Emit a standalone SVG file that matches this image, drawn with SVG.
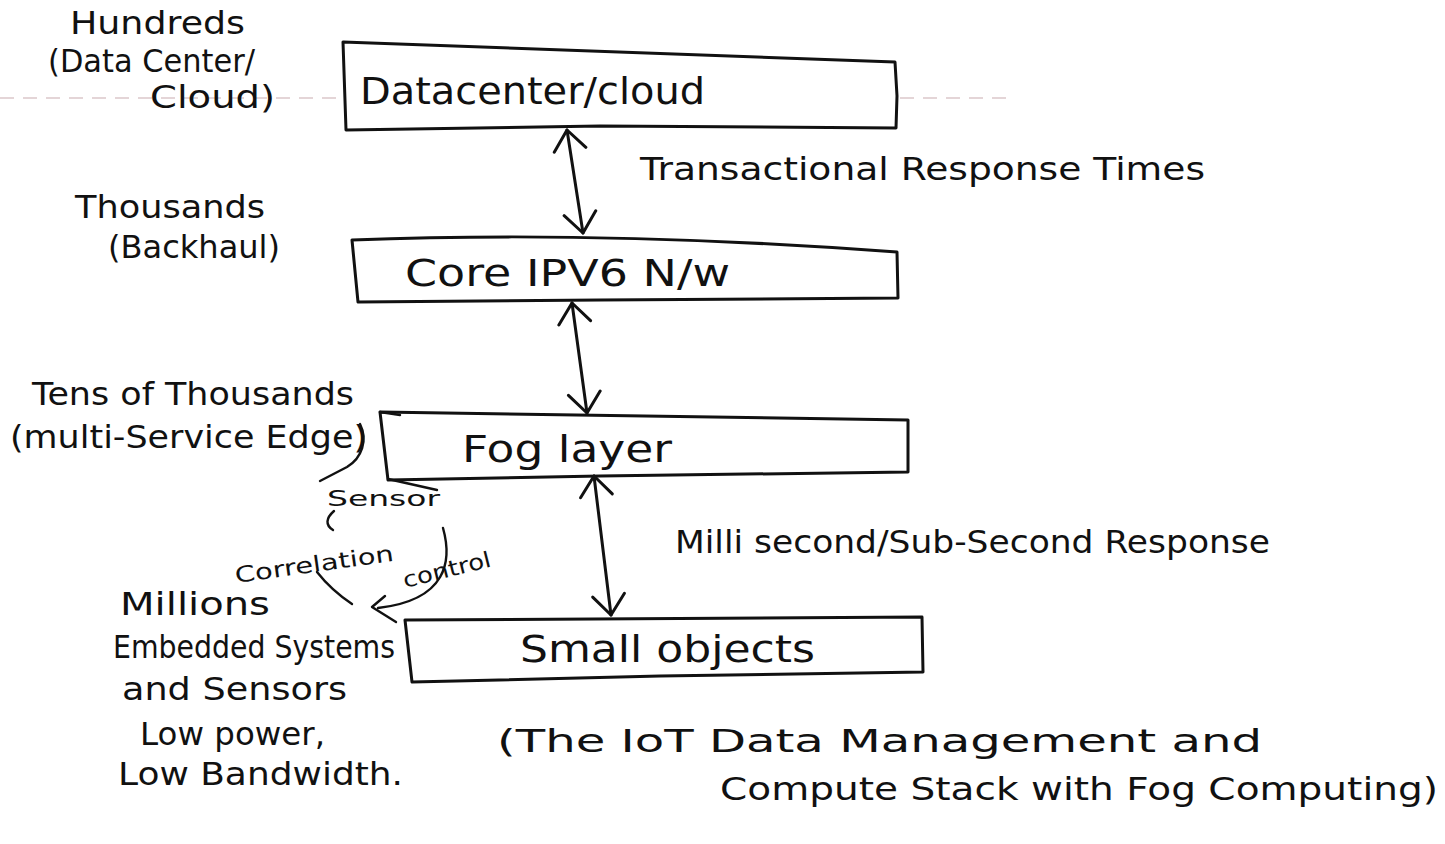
<svg xmlns="http://www.w3.org/2000/svg" width="1445" height="844" viewBox="0 0 1445 844">
  <style>
    .ink { fill: none; stroke: #111; stroke-width: 3; stroke-linecap: round; stroke-linejoin: round; }
    .thin { fill: none; stroke: #111; stroke-width: 2.4; stroke-linecap: round; stroke-linejoin: round; }
    .t { font-family: "DejaVu Sans", "Liberation Sans", sans-serif; fill: #111; font-size: 32px; }
    .tb { font-family: "DejaVu Sans", "Liberation Sans", sans-serif; fill: #111; font-size: 38px; }
    .ts { font-family: "DejaVu Sans", "Liberation Sans", sans-serif; fill: #111; font-size: 22px; }
    .rule { fill: none; stroke: #dcc7ca; stroke-width: 1.6; stroke-dasharray: 14 9; }
  </style>
  <defs>
    <marker id="head" markerUnits="userSpaceOnUse" markerWidth="30" markerHeight="40" refX="22" refY="18" orient="auto-start-reverse">
      <path d="M2,2 L22,18 L2,34" fill="none" stroke="#111" stroke-width="3" stroke-linecap="round" stroke-linejoin="round"/>
    </marker>
  </defs>

  <rect width="1445" height="844" fill="#ffffff"/>

  <!-- faint ruled line of the notebook page -->
  <path class="rule" d="M0,98 L340,98 M900,98 L1010,98"/>

  <!-- side labels: scale of each tier -->
  <g id="label-hundreds">
    <text class="t" x="70" y="34" textLength="175" lengthAdjust="spacingAndGlyphs">Hundreds</text>
    <text class="t" x="48" y="72" textLength="207" lengthAdjust="spacingAndGlyphs">(Data Center/</text>
    <text class="t" x="150" y="108" textLength="125" lengthAdjust="spacingAndGlyphs">Cloud)</text>
  </g>
  <g id="label-thousands">
    <text class="t" x="75" y="218" textLength="190" lengthAdjust="spacingAndGlyphs">Thousands</text>
    <text class="t" x="108" y="258" textLength="172" lengthAdjust="spacingAndGlyphs">(Backhaul)</text>
  </g>
  <g id="label-tens">
    <text class="t" x="32" y="405" textLength="322" lengthAdjust="spacingAndGlyphs">Tens of Thousands</text>
    <text class="t" x="10" y="448" textLength="357" lengthAdjust="spacingAndGlyphs">(multi-Service Edge)</text>
  </g>
  <g id="label-millions">
    <text class="t" x="120" y="615" textLength="150" lengthAdjust="spacingAndGlyphs">Millions</text>
    <text class="t" x="113" y="658" textLength="282" lengthAdjust="spacingAndGlyphs">Embedded Systems</text>
    <text class="t" x="122" y="700" textLength="225" lengthAdjust="spacingAndGlyphs">and Sensors</text>
    <text class="t" x="140" y="745" textLength="185" lengthAdjust="spacingAndGlyphs">Low power,</text>
    <text class="t" x="118" y="785" textLength="285" lengthAdjust="spacingAndGlyphs">Low Bandwidth.</text>
  </g>

  <!-- stack tiers -->
  <g id="node-cloud">
    <path class="ink" d="M343,42 L895,62 L897,96 L896,128 L600,126 L346,130 Z"/>
    <text class="tb" x="360" y="104" textLength="345" lengthAdjust="spacingAndGlyphs">Datacenter/cloud</text>
  </g>
  <g id="node-core">
    <path class="ink" d="M352,240 Q600,230 897,252 L898,298 L600,300 L358,302 Z"/>
    <text class="tb" x="405" y="286" textLength="325" lengthAdjust="spacingAndGlyphs">Core IPV6 N/w</text>
  </g>
  <g id="node-fog">
    <path class="ink" d="M380,412 L908,420 L908,472 L600,476 L388,480 Z"/>
    <path class="thin" d="M380,412 L400,415"/>
    <text class="tb" x="462" y="462" font-size="35" textLength="210" lengthAdjust="spacingAndGlyphs">Fog layer</text>
  </g>
  <g id="node-objects">
    <path class="ink" d="M405,620 L922,617 L923,672 L660,676 L412,682 Z"/>
    <text class="tb" x="520" y="662" textLength="295" lengthAdjust="spacingAndGlyphs">Small objects</text>
  </g>

  <!-- response-time notes -->
  <g id="note-transactional">
    <text class="t" x="640" y="180" textLength="565" lengthAdjust="spacingAndGlyphs">Transactional Response Times</text>
  </g>
  <g id="note-millisecond">
    <text class="t" x="675" y="553" textLength="595" lengthAdjust="spacingAndGlyphs">Milli second/Sub-Second Response</text>
  </g>

  <!-- fog loop annotations -->
  <g id="fog-loop">
    <text class="ts" x="327" y="506" textLength="113" lengthAdjust="spacingAndGlyphs">Sensor</text>
    <text class="ts" x="236" y="583" textLength="160" lengthAdjust="spacingAndGlyphs" transform="rotate(-8 236 583)" font-size="26">Correlation</text>
    <text class="ts" x="405" y="588" textLength="90" lengthAdjust="spacingAndGlyphs" transform="rotate(-14 405 588)">control</text>
    <path class="thin" d="M360,424 C368,440 362,458 347,467 L320,481"/>
    <path class="thin" d="M388,479 L437,490"/>
    <path class="thin" d="M334,511 C326,518 325,525 333,530"/>
    <path class="thin" d="M317,572 C328,586 340,596 352,604"/>
    <path class="thin" d="M443,528 C452,560 448,600 378,608"/>
    <path class="thin" d="M385,596 L372,607 L396,622"/>
  </g>

  <!-- caption -->
  <g id="caption">
    <text class="t" x="497" y="752" textLength="765" lengthAdjust="spacingAndGlyphs">(The IoT Data Management and</text>
    <text class="t" x="720" y="800" textLength="718" lengthAdjust="spacingAndGlyphs">Compute Stack with Fog Computing)</text>
  </g>

  <!-- connectors between tiers -->
  <g id="connectors">
    <path class="ink" d="M567,130 L583,233" marker-start="url(#head)" marker-end="url(#head)"/>
    <path class="ink" d="M572,303 L587,413" marker-start="url(#head)" marker-end="url(#head)"/>
    <path class="ink" d="M594,476 L611,615" marker-start="url(#head)" marker-end="url(#head)"/>
  </g>
</svg>
